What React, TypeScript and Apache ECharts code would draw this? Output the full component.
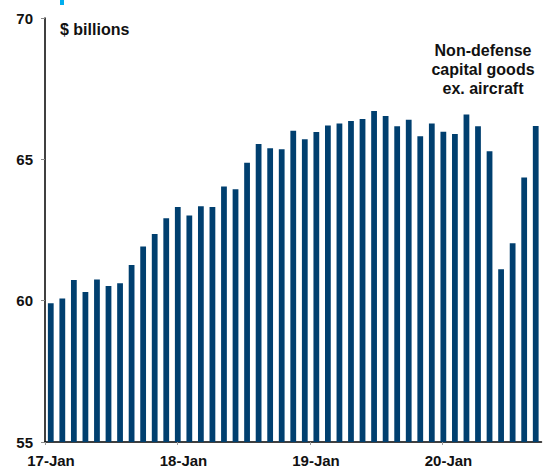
import React, { useEffect, useRef } from "react";
import * as echarts from "echarts";

const months: string[] = [];
for (let y = 2017; y <= 2020; y++) {
  for (let m = 1; m <= 12; m++) {
    if (y === 2020 && m > 7) break;
    months.push(`${y}-${String(m).padStart(2, "0")}`);
  }
}

const values = [
  59.91, 60.08, 60.73, 60.31, 60.75, 60.52, 60.62, 61.26, 61.92, 62.36, 62.92, 63.31,
  63.01, 63.34, 63.31, 64.04, 63.94, 64.88, 65.54, 65.39, 65.36, 66.01, 65.71, 65.97,
  66.2, 66.27, 66.36, 66.43, 66.71, 66.53, 66.17, 66.4, 65.82, 66.27, 65.98, 65.9,
  66.59, 66.17, 65.29, 61.11, 62.03, 64.36, 66.18,
];

const yearLabels = ["17-Jan", "18-Jan", "19-Jan", "20-Jan"];

const FONT = "'Liberation Sans', Arial, sans-serif";

export default function App() {
  const ref = useRef<HTMLDivElement>(null);
  useEffect(() => {
    document.body.style.margin = "0";
    if (!ref.current) return;
    const chart = echarts.init(ref.current, null, { renderer: "svg" });
    chart.setOption({
      animation: false,
      grid: { left: 45, right: 2.5, top: 18, bottom: 26, containLabel: false },
      xAxis: [
        {
          type: "category",
          data: months,
          position: "bottom",
          boundaryGap: true,
          axisLine: { show: true, lineStyle: { color: "#000", width: 1.5 } },
          axisTick: { show: false },
          axisLabel: { show: false },
          splitLine: { show: false },
        },
        {
          type: "value",
          position: "bottom",
          min: 0,
          max: 3.747,
          interval: 1,
          axisLine: { show: false },
          axisTick: { show: true, inside: false, length: 3, lineStyle: { color: "#999" } },
          splitLine: { show: false },
          axisLabel: {
            showMaxLabel: false,
            margin: 11,
            color: "#111",
            fontFamily: FONT,
            fontWeight: "bold",
            fontSize: 15,
            padding: [0, 0, 0, 12],
            formatter: (v: number) => yearLabels[Math.round(v)] ?? "",
          },
        },
      ],
      yAxis: {
        type: "value",
        min: 55,
        max: 70,
        interval: 5,
        axisLine: { show: true, lineStyle: { color: "#000", width: 1.5 } },
        axisTick: { show: true, length: 4, lineStyle: { color: "#888" } },
        splitLine: { show: false },
        axisLabel: {
          margin: 12,
          color: "#111",
          fontFamily: FONT,
          fontWeight: "bold",
          fontSize: 15,
        },
      },
      series: [
        {
          type: "bar",
          xAxisIndex: 0,
          data: values,
          barWidth: "50%",
          itemStyle: { color: "#003f6f" },
        },
      ],
      graphic: [
        {
          type: "rect",
          shape: { x: 60, y: 0, width: 4, height: 5 },
          style: { fill: "#00aeef" },
        },
        {
          type: "text",
          left: 60,
          top: 21,
          style: {
            text: "$ billions",
            font: `bold 16px ${FONT}`,
            fill: "#111",
          },
        },
        {
          type: "text",
          x: 483,
          y: 41,
          style: {
            text: "Non-defense\ncapital goods\nex. aircraft",
            font: `bold 16px ${FONT}`,
            lineHeight: 19,
            fill: "#111",
            align: "center",
            verticalAlign: "top",
          },
        },
      ],
    });
    return () => chart.dispose();
  }, []);
  return <div ref={ref} style={{ width: 544, height: 468 }} />;
}
